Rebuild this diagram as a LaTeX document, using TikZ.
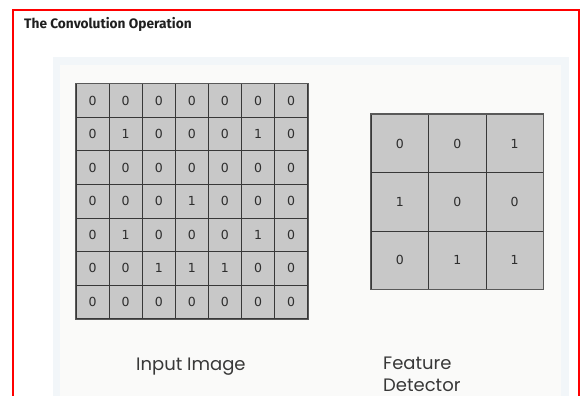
\documentclass[tikz,border=0pt]{standalone}
\usepackage{fontspec}
\setmainfont{Poppins}
\newfontfamily\titlefont{Fira Sans}
\newfontfamily\digitfont{DejaVu Sans}
\begin{document}
\begin{tikzpicture}[x=1pt,y=-1pt,
  cellbox/.style={draw=black!78,line width=0.9pt,fill=cellgray,inner sep=0pt,
    font=\digitfont\fontsize{12.5}{14}\selectfont,text=black!82},
  caption/.style={font=\fontsize{18}{21.5}\selectfont,text=black!78,anchor=base west,inner sep=0pt,align=left}]
\definecolor{cellgray}{HTML}{C8C8C8}
\definecolor{panelband}{HTML}{F2F6F9}
\definecolor{panelfill}{HTML}{FAFAF9}
\useasboundingbox (0,0) rectangle (581,396);
\fill[white] (0,0) rectangle (581,396);
% panel behind the grids
\fill[panelband] (53,57) rectangle (569,400);
\fill[panelfill] (60,65.5) rectangle (561,400);
% outer frame, open at the bottom
\draw[red,line width=2pt] (13,400) -- (13,10.5) -- (579,10.5) -- (579,400);
% title
\node[anchor=base west,inner sep=0pt,font=\titlefont\bfseries\fontsize{13.7}{15}\selectfont,text=black!88]
  (title) at (24,28.5) {The Convolution Operation};
% input image, 7x7
\def\cw{33.1}
\def\ch{33.57}
\foreach \row [count=\r from 0] in {{0,0,0,0,0,0,0},{0,1,0,0,0,1,0},{0,0,0,0,0,0,0},{0,0,0,1,0,0,0},{0,1,0,0,0,1,0},{0,0,1,1,1,0,0},{0,0,0,0,0,0,0}}{
  \foreach \v [count=\c from 0] in \row{
    \node[cellbox,minimum width=\cw pt,minimum height=\ch pt]
      (in-\r-\c) at ({76+(\c+0.5)*\cw},{83.8+(\r+0.5)*\ch}) {\v};
  }
}
\draw[black!65,line width=1.2pt] (in-0-0.north west) rectangle (in-6-6.south east);
% feature detector, 3x3
\def\fw{57.4}
\def\fh{58.3}
\foreach \row [count=\r from 0] in {{0,0,1},{1,0,0},{0,1,1}}{
  \foreach \v [count=\c from 0] in \row{
    \node[cellbox,minimum width=\fw pt,minimum height=\fh pt]
      (fd-\r-\c) at ({371.2+(\c+0.5)*\fw},{114.4+(\r+0.5)*\fh}) {\v};
  }
}
\draw[black!65,line width=1.2pt] (fd-0-0.north west) rectangle (fd-2-2.south east);
% captions
\node[caption] (inlabel) at (136,370) {Input Image};
\node[caption] (fdlabel) at (383,391) {Feature\\Detector};
\end{tikzpicture}
\end{document}
